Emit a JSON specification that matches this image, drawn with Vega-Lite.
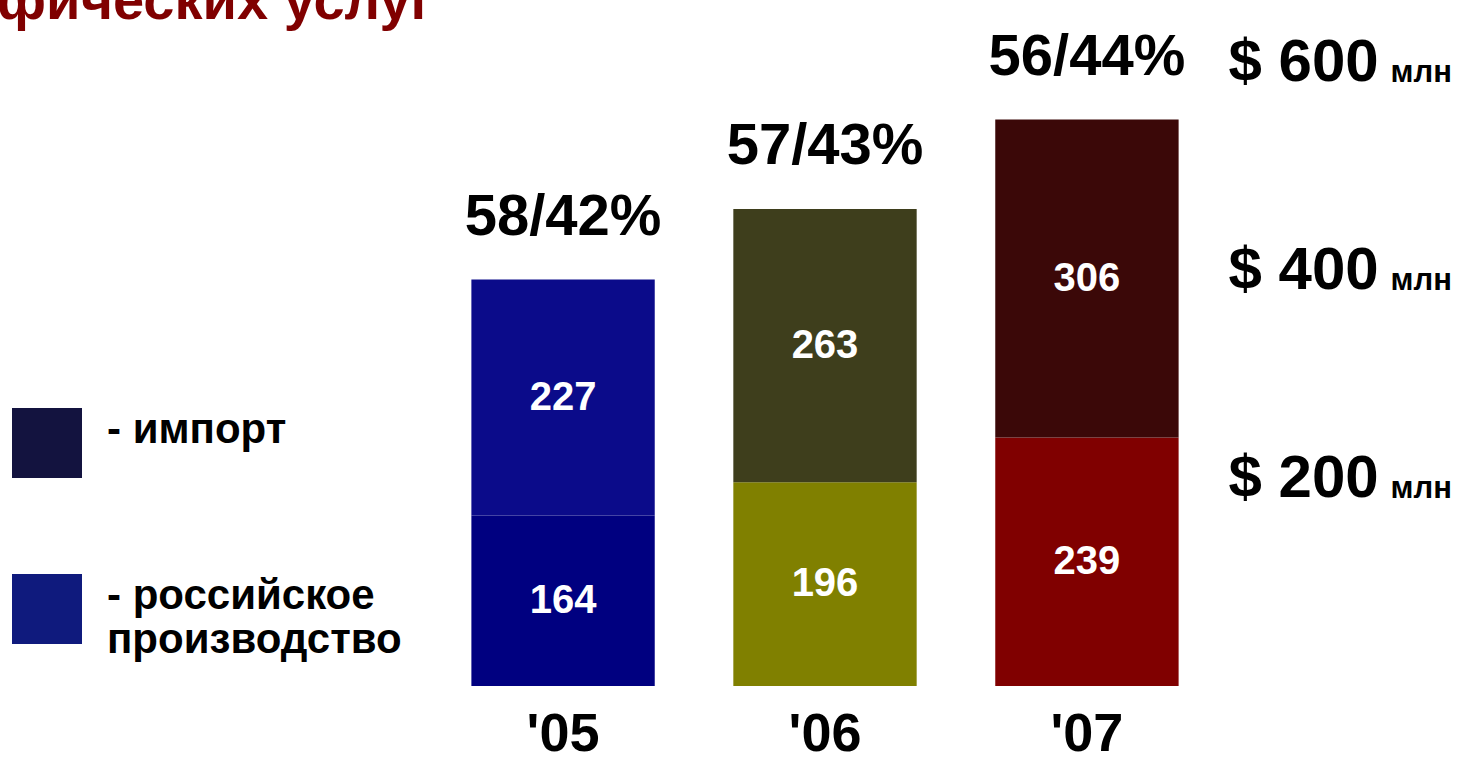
{
  "$schema": "https://vega.github.io/schema/vega-lite/v6.json",
  "autosize": {"type": "none"},
  "width": 790,
  "height": 686,
  "padding": {"left": 430, "top": 0, "right": 253, "bottom": 76},
  "background": "white",
  "title": {
    "text": "фических услуг",
    "anchor": "start",
    "orient": "top",
    "frame": "group",
    "offset": 0,
    "baseline": "alphabetic",
    "dx": -433,
    "dy": 75,
    "fontSize": 56,
    "font": "Liberation Sans",
    "fontWeight": "bold",
    "color": "#800000"
  },
  "config": {"view": {"stroke": null}, "font": "Liberation Sans"},
  "data": {
    "values": [
      {"year": "'05", "type": "российское производство", "series": "05-рос", "value": 164, "pct": null},
      {"year": "'05", "type": "импорт", "series": "05-имп", "value": 227, "pct": "58/42%"},
      {"year": "'06", "type": "российское производство", "series": "06-рос", "value": 196, "pct": null},
      {"year": "'06", "type": "импорт", "series": "06-имп", "value": 263, "pct": "57/43%"},
      {"year": "'07", "type": "российское производство", "series": "07-рос", "value": 239, "pct": null},
      {"year": "'07", "type": "импорт", "series": "07-имп", "value": 306, "pct": "56/44%"}
    ]
  },
  "transform": [
    {"stack": "value", "groupby": ["year"], "sort": [{"field": "type", "order": "descending"}], "as": ["v0", "v1"]}
  ],
  "layer": [
    {
      "mark": {"type": "bar"},
      "encoding": {
        "x": {
          "field": "year",
          "type": "nominal",
          "scale": {"paddingInner": 0.3, "paddingOuter": 0.158},
          "axis": {
            "title": null,
            "orient": "bottom",
            "domain": false,
            "ticks": false,
            "labelAngle": 0,
            "labelFontSize": 54,
            "labelFontWeight": "bold",
            "labelFont": "Liberation Sans",
            "labelColor": "black",
            "labelPadding": 21
          }
        },
        "y": {
          "field": "v0",
          "type": "quantitative",
          "scale": {"domain": [0, 660], "nice": false},
          "axis": {
            "title": null,
            "orient": "right",
            "values": [200, 400, 600],
            "labelExpr": "'$ ' + datum.value",
            "domain": false,
            "ticks": false,
            "tickSize": 0,
            "grid": false,
            "labelAlign": "left",
            "labelBaseline": "middle",
            "labelPadding": 8,
            "labelFontSize": 60,
            "labelFontWeight": "bold",
            "labelFont": "Liberation Sans",
            "labelColor": "black"
          }
        },
        "y2": {"field": "v1"},
        "color": {
          "field": "series",
          "type": "nominal",
          "scale": {
            "domain": ["05-рос", "05-имп", "06-рос", "06-имп", "07-рос", "07-имп"],
            "range": ["#000080", "#0b0b8a", "#808000", "#3e3e1c", "#800000", "#3b0808"]
          },
          "legend": null
        }
      }
    },
    {
      "transform": [{"filter": "datum.value < 0"}],
      "mark": {"type": "bar"},
      "encoding": {
        "x": {"field": "year", "type": "nominal"},
        "y": {"field": "v1", "type": "quantitative", "axis": null},
        "fill": {
          "field": "type",
          "type": "nominal",
          "scale": {"domain": ["импорт", "российское производство"], "range": ["#13133f", "#0f1a7d"]},
          "legend": {
            "orient": "none",
            "legendX": -418,
            "legendY": 408,
            "title": null,
            "direction": "vertical",
            "padding": 0,
            "symbolType": "square",
            "symbolSize": 4900,
            "symbolStrokeWidth": 0,
            "labelFontSize": 42,
            "labelFontWeight": "bold",
            "labelFont": "Liberation Sans",
            "labelColor": "black",
            "labelBaseline": "alphabetic",
            "labelOffset": 25,
            "labelLimit": 0,
            "rowPadding": 96,
            "labelExpr": "datum.label == 'импорт' ? '- импорт' : ['- российское', 'производство']"
          }
        }
      }
    },
    {
      "transform": [
        {"fold": ["v0", "v1"], "as": ["edge", "pos"]}
      ],
      "mark": {"type": "text", "color": "white", "fontSize": 40, "fontWeight": "bold", "font": "Liberation Sans"},
      "encoding": {
        "x": {"field": "year", "type": "nominal"},
        "y": {
          "aggregate": "mean",
          "field": "pos",
          "type": "quantitative",
          "axis": {
            "title": null,
            "orient": "right",
            "values": [200, 400, 600],
            "labelExpr": "'млн'",
            "domain": false,
            "ticks": false,
            "tickSize": 0,
            "grid": false,
            "labelAlign": "left",
            "labelBaseline": "middle",
            "labelPadding": 170,
            "labelOffset": 10,
            "labelFontSize": 31,
            "labelFontWeight": "bold",
            "labelFont": "Liberation Sans",
            "labelColor": "black"
          }
        },
        "text": {"field": "value", "type": "quantitative"}
      }
    },
    {
      "transform": [{"filter": "datum.pct != null"}],
      "mark": {"type": "text", "color": "black", "fontSize": 58, "fontWeight": "bold", "font": "Liberation Sans", "baseline": "alphabetic", "dy": -45},
      "encoding": {
        "x": {"field": "year", "type": "nominal"},
        "y": {"field": "v1", "type": "quantitative", "axis": null},
        "text": {"field": "pct", "type": "nominal"}
      }
    }
  ],
  "resolve": {"axis": {"y": "independent"}}
}
